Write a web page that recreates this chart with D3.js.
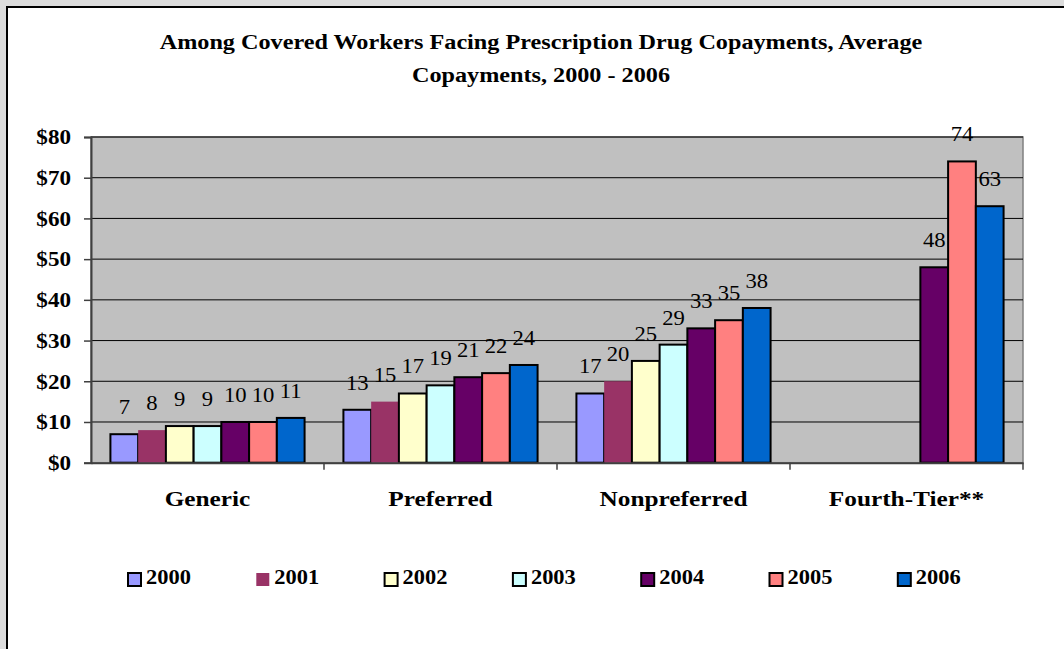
<!DOCTYPE html>
<html>
<head>
<meta charset="utf-8">
<script src="https://cdn.jsdelivr.net/npm/d3@7"></script>
<style>
  html, body { margin: 0; padding: 0; background: #dcdcdc; }
  svg { display: block; }
  .serif { font-family: "Liberation Serif", "Times New Roman", Tinos, Times, serif; }
</style>
</head>
<body>
<svg id="chart" width="1064" height="649"></svg>
<script>
// Average copayments by drug tier and year
const categories = ["Generic", "Preferred", "Nonpreferred", "Fourth-Tier**"];
const years = ["2000", "2001", "2002", "2003", "2004", "2005", "2006"];
const generic      = [7, 8, 9, 9, 10, 10, 11];
const preferred    = [13, 15, 17, 19, 21, 22, 24];
const nonpreferred = [17, 20, 25, 29, 33, 35, 38];
const fourthTier   = [null, null, null, null, 48, 74, 63];
const yTicks = [0, 10, 20, 30, 40, 50, 60, 70, 80];
const colors = ["#9999FF", "#993366", "#FFFFCC", "#CCFFFF", "#660066", "#FF8080", "#0066CC"];
const titleLines = ["Among Covered Workers Facing Prescription Drug Copayments, Average",
                    "Copayments, 2000 - 2006"];

const seriesByCategory = [generic, preferred, nonpreferred, fourthTier];

const svg = d3.select("#chart");

// widen text horizontally around its anchor point
function stretch(sel, sx) {
  sel.each(function() {
    const t = d3.select(this);
    const x = +t.attr("x") || 0, yy = +t.attr("y") || 0;
    t.attr("x", 0).attr("y", 0)
     .attr("transform", `translate(${x},${yy}) scale(${sx},1)`);
  });
}

// white frame
svg.append("rect")
  .attr("x", 7).attr("y", 7).attr("width", 1070).attr("height", 660)
  .attr("fill", "#fff").attr("stroke", "#000").attr("stroke-width", 2);

// title
svg.append("g").attr("class", "serif").selectAll("text").data(titleLines).join("text")
  .attr("x", 541).attr("y", (d, i) => 49 + i * 32.5)
  .attr("text-anchor", "middle")
  .attr("font-weight", "bold").attr("font-size", 22)
  .text(d => d)
  .call(stretch, 1.1);

const plot = { left: 91, right: 1023, top: 137, bottom: 462.7 };

const x0 = d3.scaleBand().domain(categories).range([plot.left, plot.right]).paddingInner(0).paddingOuter(0);
const x1 = d3.scaleBand().domain(years).range([0, x0.bandwidth()]).paddingInner(0).paddingOuter(0.7);
const y = d3.scaleLinear().domain([0, 80]).range([plot.bottom, plot.top]);

// plot background
svg.append("rect")
  .attr("x", plot.left).attr("y", plot.top)
  .attr("width", plot.right - plot.left).attr("height", plot.bottom - plot.top)
  .attr("fill", "#c0c0c0").attr("stroke", "#808080").attr("stroke-width", 1.5);

// gridlines
svg.append("g").selectAll("line").data(yTicks.filter(t => t > 0)).join("line")
  .attr("x1", plot.left).attr("x2", plot.right)
  .attr("y1", d => y(d)).attr("y2", d => y(d))
  .attr("stroke", "#000").attr("stroke-width", 1);

// bars
const groups = svg.append("g").attr("class", "serif").selectAll("g").data(categories).join("g")
  .attr("transform", d => `translate(${x0(d)},0)`);

groups.each(function(cat, ci) {
  const vals = seriesByCategory[ci]
    .map((v, i) => ({ year: years[i], value: v, i }))
    .filter(d => d.value !== null);
  const g = d3.select(this);
  g.selectAll("rect").data(vals).join("rect")
    .attr("x", d => x1(d.year))
    .attr("y", d => y(d.value))
    .attr("width", x1.bandwidth())
    .attr("height", d => y(0) - y(d.value))
    .attr("fill", d => colors[d.i])
    .attr("stroke", d => d.year === "2001" ? "none" : "#000")
    .attr("stroke-width", 2);
  g.selectAll("text").data(vals).join("text")
    .attr("x", d => x1(d.year) + x1.bandwidth() / 2)
    .attr("y", d => y(d.value) - 20)
    .attr("text-anchor", "middle")
    .attr("font-size", 21)
    .attr("fill", "#000")
    .text(d => d.value)
    .call(stretch, 1.08);
});

// y axis
const yAxis = d3.axisLeft(y).tickValues(yTicks).tickSize(7).tickPadding(13)
  .tickFormat(d => "$" + d);
const ya = svg.append("g").attr("transform", `translate(${plot.left},0)`).call(yAxis);
ya.attr("font-family", null).attr("class", "serif");
ya.select(".domain").attr("stroke", "#404040").attr("stroke-width", 2);
ya.selectAll(".tick line").attr("stroke", "#404040").attr("stroke-width", 1.5);
ya.selectAll(".tick text")
  .attr("font-weight", "bold").attr("font-size", 21)
  .attr("fill", "#000")
  .call(stretch, 1.1);

// x axis
const xAxis = d3.axisBottom(x0).tickSize(0).tickPadding(0);
const xa = svg.append("g").attr("transform", `translate(0,${plot.bottom})`).call(xAxis);
xa.attr("font-family", null).attr("class", "serif");
xa.select(".domain").attr("stroke", "#404040").attr("stroke-width", 2);
xa.selectAll(".tick text")
  .attr("y", 43)
  .attr("dy", 0)
  .attr("font-weight", "bold").attr("font-size", 22)
  .attr("fill", "#000")
  .call(stretch, 1.15);
// category separators
xa.append("g").selectAll("line").data(categories.slice(1).concat(["_end"])).join("line")
  .attr("x1", d => d === "_end" ? plot.right : x0(d))
  .attr("x2", d => d === "_end" ? plot.right : x0(d))
  .attr("y1", 0).attr("y2", 7)
  .attr("stroke", "#404040").attr("stroke-width", 1.5);

// legend
const lx = d3.scaleBand().domain(years).range([127, 127 + 128.3 * 7]);
const legend = svg.append("g").attr("class", "serif").selectAll("g").data(years).join("g")
  .attr("transform", d => `translate(${lx(d)},572)`);
legend.append("rect")
  .attr("x", 1).attr("y", 1).attr("width", 13).attr("height", 13)
  .attr("fill", (d, i) => colors[i])
  .attr("stroke", d => d === "2001" ? "none" : "#000")
  .attr("stroke-width", 2);
legend.append("text")
  .attr("x", 19).attr("y", 11.5)
  .attr("font-weight", "bold").attr("font-size", 21)
  .attr("fill", "#000")
  .text(d => d)
  .call(stretch, 1.07);
</script>
</body>
</html>
